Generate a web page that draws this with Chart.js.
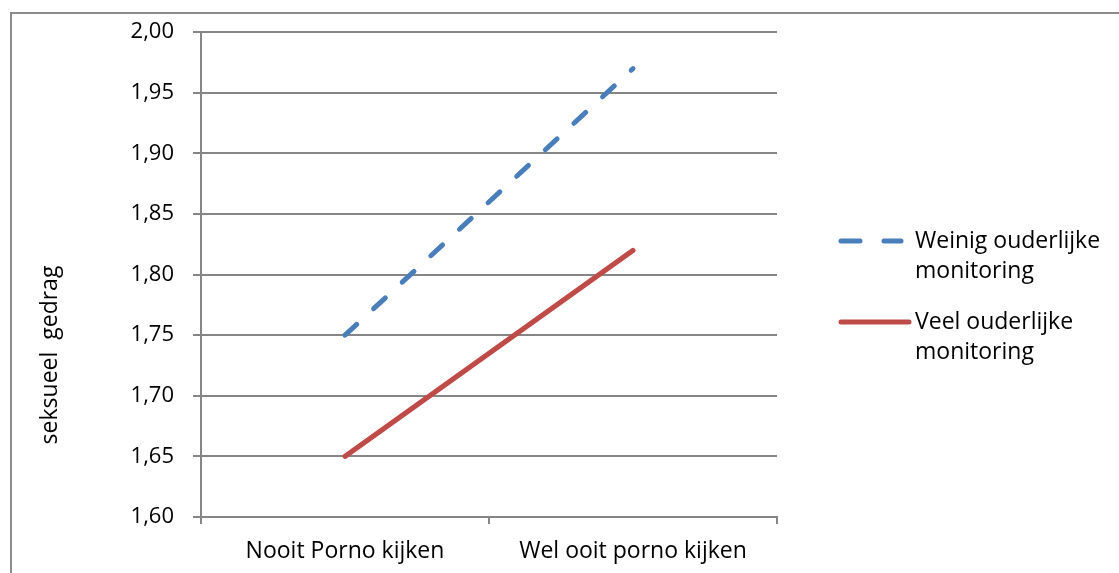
<!DOCTYPE html>
<html>
<head>
<meta charset="utf-8">
<script src="https://cdn.jsdelivr.net/npm/chart.js@4.4.0/dist/chart.umd.min.js"></script>
<style>
  html, body { margin: 0; padding: 0; background: #fff; }
  canvas { display: block; }
</style>
</head>
<body>
<canvas id="chart" width="1119" height="573"></canvas>
<script>
// data
const categories = ['Nooit Porno kijken', 'Wel ooit porno kijken'];
const weinigValues = [1.75, 1.97];
const veelValues = [1.65, 1.82];
const seriesLabels = ['Weinig ouderlijke monitoring', 'Veel ouderlijke monitoring'];
const yTitle = 'seksueel  gedrag';
const yMin = 1.6;
const yMax = 2.0;
const yStep = 0.05;

const FONT = '"Open Sans", sans-serif';
const GRID = '#868686';

// outer frame, axis title and the two-line legend
const decorPlugin = {
  id: 'decor',
  afterDraw(chart) {
    const ctx = chart.ctx;
    const area = chart.chartArea;
    ctx.save();

    ctx.strokeStyle = '#8c8c8c';
    ctx.lineWidth = 2;
    ctx.beginPath();
    ctx.moveTo(11, chart.height);
    ctx.lineTo(11, 13);
    ctx.lineTo(chart.width, 13);
    ctx.stroke();

    ctx.fillStyle = '#000';
    ctx.font = '23px ' + FONT;
    ctx.translate(50, 355);
    ctx.rotate(-Math.PI / 2);
    ctx.textAlign = 'center';
    ctx.textBaseline = 'middle';
    ctx.fillText(yTitle, 0, 0);
    ctx.setTransform(1, 0, 0, 1, 0, 0);

    const x0 = area.right + 62;
    chart.data.datasets.forEach((ds, i) => {
      const y = 241 + i * 81;
      ctx.strokeStyle = ds.borderColor;
      ctx.lineWidth = ds.borderWidth;
      ctx.lineCap = 'round';
      ctx.setLineDash(i === 0 ? [19, 24] : []);
      ctx.beginPath();
      ctx.moveTo(x0 + 2, y);
      ctx.lineTo(i === 0 ? x0 + 62 : x0 + 70, y);
      ctx.stroke();
      ctx.setLineDash([]);

      const cut = ds.label.lastIndexOf(' ');
      const lines = [ds.label.slice(0, cut), ds.label.slice(cut + 1)];
      ctx.fillStyle = '#000';
      ctx.font = '23px ' + FONT;
      ctx.textAlign = 'left';
      ctx.textBaseline = 'middle';
      lines.forEach((t, j) => ctx.fillText(t, x0 + 76, y + j * 30));
    });
    ctx.restore();
  }
};

new Chart(document.getElementById('chart'), {
  type: 'line',
  data: {
    labels: categories,
    datasets: [
      {
        label: seriesLabels[0],
        data: weinigValues,
        borderColor: '#4a7ebb',
        borderWidth: 5,
        borderDash: [16, 23],
        borderCapStyle: 'round',
        pointRadius: 0,
        tension: 0
      },
      {
        label: seriesLabels[1],
        data: veelValues,
        borderColor: '#be4b48',
        borderWidth: 5,
        borderCapStyle: 'round',
        pointRadius: 0,
        tension: 0
      }
    ]
  },
  options: {
    responsive: false,
    animation: false,
    devicePixelRatio: 1,
    layout: { padding: { top: 29, right: 342, bottom: 0, left: 0 } },
    plugins: {
      legend: { display: false },
      tooltip: { enabled: false }
    },
    scales: {
      x: {
        offset: true,
        grid: {
          offset: true,
          drawOnChartArea: false,
          color: GRID,
          lineWidth: 2,
          tickLength: 7
        },
        border: { color: GRID, width: 2 },
        ticks: {
          color: '#000',
          padding: 14,
          maxRotation: 0,
          font: { family: FONT, size: 23 }
        },
        afterFit: scale => { scale.height = 56; }
      },
      y: {
        min: yMin,
        max: yMax,
        grid: { color: GRID, lineWidth: 2, tickLength: 8 },
        border: { color: GRID, width: 2 },
        ticks: {
          stepSize: yStep,
          color: '#000',
          padding: 19,
          font: { family: FONT, size: 22 },
          callback: v => v.toFixed(2).replace('.', ',')
        },
        afterFit: scale => { scale.width = 201; }
      }
    }
  },
  plugins: [decorPlugin]
});
</script>
</body>
</html>
